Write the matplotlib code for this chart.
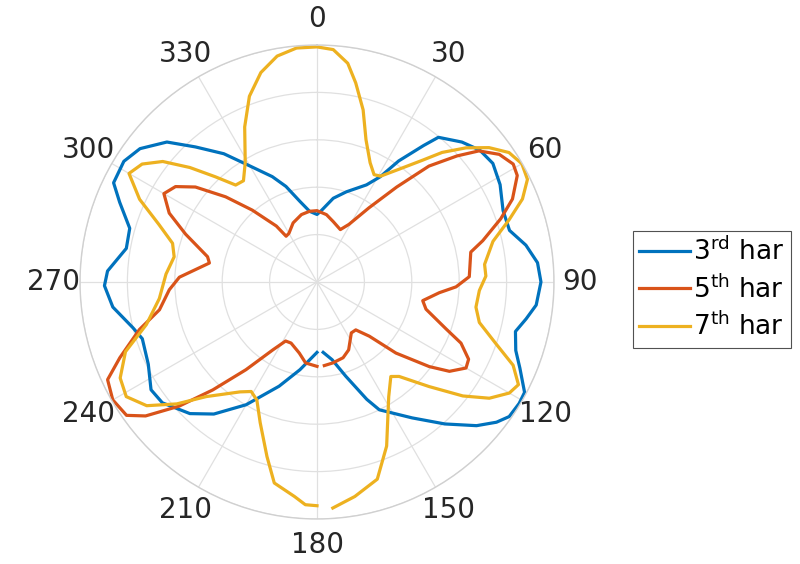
import numpy as np
import matplotlib
matplotlib.use("Agg")
import matplotlib.pyplot as plt

# harmonic magnitude patterns (normalised), angle in degrees, clockwise from north
theta_3 = [-180, -169, -160, -150, -142, -136, -128, -123, -116, -108, -104, -97,
           -91, -87, -80, -74, -68, -64, -58, -53, -47, -42, -36, -30, -23, -18,
           -12, -6, 0, 3, 11, 18, 27, 31, 34, 38, 40, 46, 51, 56, 62, 69, 75, 80,
           85, 90, 96, 100, 104, 109, 113, 118, 121, 125, 128, 132, 138, 145, 154,
           157, 163, 169, 175]
r_3 = [0.297, 0.377, 0.468, 0.598, 0.707, 0.772, 0.828, 0.835, 0.792, 0.775, 0.80,
       0.868, 0.897, 0.885, 0.817, 0.822, 0.898, 0.955, 0.961, 0.935, 0.866, 0.767,
       0.669, 0.565, 0.483, 0.424, 0.348, 0.30, 0.285, 0.299, 0.36, 0.40, 0.46,
       0.518, 0.616, 0.731, 0.797, 0.85, 0.884, 0.895, 0.875, 0.841, 0.841, 0.895,
       0.934, 0.945, 0.93, 0.896, 0.863, 0.887, 0.93, 0.992, 0.995, 0.99, 0.961,
       0.906, 0.806, 0.70, 0.60, 0.538, 0.416, 0.334, 0.298]

theta_5 = [-180, -172, -166, -157, -152, -147, -141, -136, -132, -128, -125, -120,
           -115, -111, -105, -100, -93, -88, -80, -77, -70, -65, -60, -56, -52, -47,
           -42, -36, -34, -30, -22, -13, -6, 0, 8, 15, 24, 29, 35, 40, 44, 48, 51,
           55, 59, 62, 67, 71, 76, 79, 88, 92, 95, 100, 104, 110, 113, 117, 120,
           124, 127, 132, 136, 141, 146, 155, 161, 169, 175]
r_5 = [0.356, 0.345, 0.309, 0.28, 0.282, 0.341, 0.476, 0.633, 0.783, 0.918, 0.981,
       0.995, 0.975, 0.891, 0.776, 0.675, 0.624, 0.581, 0.461, 0.474, 0.59, 0.688,
       0.746, 0.72, 0.651, 0.527, 0.408, 0.292, 0.233, 0.237, 0.269, 0.292, 0.30,
       0.301, 0.287, 0.264, 0.242, 0.278, 0.382, 0.523, 0.68, 0.795, 0.879, 0.939,
       0.966, 0.957, 0.896, 0.82, 0.721, 0.661, 0.643, 0.587, 0.518, 0.453, 0.474,
       0.58, 0.66, 0.718, 0.726, 0.674, 0.593, 0.448, 0.318, 0.26, 0.259, 0.316,
       0.338, 0.348, 0.354]

theta_7 = [-180, -177, -174, -168, -164, -158, -153, -149, -145, -136, -131, -126,
           -121, -116, -110, -104, -96, -87, -80, -75, -70, -65, -60, -56, -52, -48,
           -44, -40, -36, -31, -25, -20, -15, -10, -5, 0, 4, 8, 11, 15, 19, 24, 28,
           31, 36, 41, 44, 48, 52, 56, 60, 64, 68, 72, 77, 84, 88, 93, 99, 104, 109,
           113, 117, 120, 124, 128, 133, 139, 142, 148, 157, 163, 170, 176]
r_7 = [0.944, 0.941, 0.91, 0.867, 0.766, 0.64, 0.559, 0.539, 0.566, 0.672, 0.784,
       0.888, 0.939, 0.924, 0.86, 0.742, 0.669, 0.638, 0.612, 0.631, 0.71, 0.826,
       0.916, 0.89, 0.826, 0.722, 0.617, 0.534, 0.528, 0.588, 0.722, 0.834, 0.915,
       0.968, 0.991, 0.992, 0.983, 0.932, 0.856, 0.752, 0.635, 0.551, 0.513, 0.521,
       0.588, 0.682, 0.76, 0.846, 0.921, 0.977, 0.998, 0.988, 0.935, 0.853, 0.762,
       0.711, 0.713, 0.686, 0.679, 0.706, 0.798, 0.899, 0.954, 0.937, 0.877, 0.781,
       0.647, 0.528, 0.506, 0.571, 0.752, 0.87, 0.919, 0.956]

labels = [r'3$^{\mathrm{rd}}$ har', r'5$^{\mathrm{th}}$ har', r'7$^{\mathrm{th}}$ har']
colors = ['#0072BD', '#D95319', '#EDB120']

fig = plt.figure(figsize=(8, 5.64), dpi=100)
ax = fig.add_axes([0.10, 0.0798, 0.5925, 0.8404], projection='polar')
ax.set_theta_zero_location('N')
ax.set_theta_direction(-1)

for th, r, lab, c in zip([theta_3, theta_5, theta_7], [r_3, r_5, r_7], labels, colors):
    ax.plot(np.deg2rad(th), r, color=c, lw=2.3, label=lab)

ax.set_ylim(0, 1)
ax.set_yticks([0.2, 0.4, 0.6, 0.8, 1.0])
ax.set_yticklabels([])
ax.set_xticks(np.deg2rad(np.arange(0, 360, 30)))
ax.set_xticklabels([str(a) for a in range(0, 360, 30)], fontsize=20, color='#262626')
ax.tick_params(axis='x', pad=12, length=0)
ax.grid(True, color='#e0e0e0', lw=0.9)
ax.spines['polar'].set_color('#d0d0d0')
ax.spines['polar'].set_linewidth(1.0)

leg = fig.legend(loc='center left', bbox_to_anchor=(0.791, 0.487), fontsize=19,
                 frameon=True, fancybox=False, handlelength=1.9, handletextpad=0.15,
                 borderpad=0.25, labelspacing=0.35, borderaxespad=0)
leg.get_frame().set_edgecolor('#262626')
leg.get_frame().set_linewidth(0.8)

fig.savefig('out.png', dpi=100)
